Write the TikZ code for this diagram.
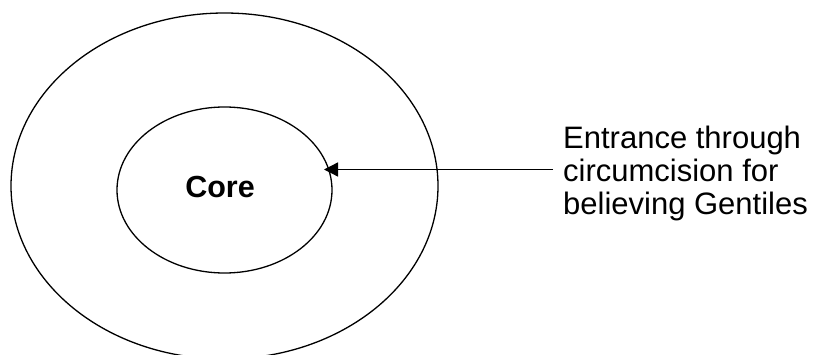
\documentclass[tikz,border=0pt]{standalone}
\usepackage{fontspec}
\setmainfont{Liberation Sans}
\usetikzlibrary{shapes.geometric,arrows.meta}

\begin{document}
\begin{tikzpicture}[x=1pt,y=1pt,
ring/.style={ellipse,draw,line width=1.3pt,inner sep=0pt},
words/.style={font=\fontsize{31}{33}\selectfont}]
\useasboundingbox (0,0) rectangle (815,354);
\node[ring,minimum width=427,minimum height=346]
(outer) at (224.5,168) {};
\node[ring,minimum width=215,minimum height=166]
(core) at (224.5,164) {};
\node[font=\fontsize{30.5}{31}\selectfont\bfseries,
anchor=base] (corelabel) at (220,156) {Core};
\node[words,align=left,anchor=north west,
inner xsep=10pt,inner ysep=0pt] (entry) at (553,228.5)
{Entrance through\\circumcision for\\believing Gentiles};
\coordinate (gate) at (324,184.5);
\draw[line width=1.3pt,-{Triangle[length=14pt,width=14pt]}]
(entry.west |- gate) -- (gate);
\end{tikzpicture}
\end{document}
